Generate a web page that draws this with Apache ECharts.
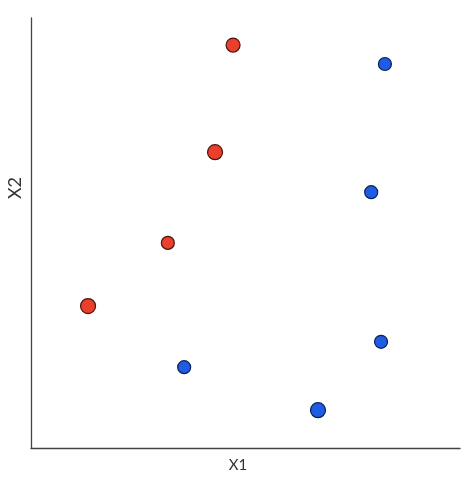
<!DOCTYPE html>
<html>
<head>
<meta charset="utf-8">
<script src="https://cdn.jsdelivr.net/npm/echarts@6/dist/echarts.min.js"></script>
<style>html,body{margin:0;padding:0;background:#fff;}#c{width:474px;height:477px;}</style>
</head>
<body>
<div id="c"></div>
<script>
// Data (axis units 0..100)
var redX = [47.1, 42.9, 31.9, 13.3];
var redY = [93.7, 68.8, 47.7, 33.0];
var redSize = [14, 15, 13, 15];
var blueX = [82.5, 79.3, 81.6, 35.7, 66.9];
var blueY = [89.3, 59.5, 24.7, 18.8, 8.8];
var blueSize = [13, 13, 13, 13, 15];
var xName = 'X1';
var yName = 'X2';

function pts(xs, ys, ss) {
  return xs.map(function (x, i) { return { value: [x, ys[i]], symbolSize: ss[i] }; });
}

var chart = echarts.init(document.getElementById('c'), null, { renderer: 'canvas' });
chart.setOption({
  animation: false,
  backgroundColor: '#ffffff',
  grid: { left: 31, right: 14, top: 18, bottom: 29, containLabel: false, outerBoundsMode: 'none' },
  xAxis: {
    type: 'value', min: 0, max: 100,
    axisLine: { show: true, onZero: false, lineStyle: { color: '#444', width: 1.3 } },
    axisTick: { show: false }, axisLabel: { show: false }, splitLine: { show: false }
  },
  yAxis: {
    type: 'value', min: 0, max: 100,
    axisLine: { show: true, onZero: false, lineStyle: { color: '#444', width: 1.3 } },
    axisTick: { show: false }, axisLabel: { show: false }, splitLine: { show: false }
  },
  graphic: [
    { type: 'text', x: 238, y: 465, style: { text: xName, font: '15px Lato', fill: '#333', align: 'center', verticalAlign: 'middle' } },
    { type: 'text', x: 15, y: 188, rotation: Math.PI / 2, style: { text: yName, font: '18px Lato', fill: '#333', align: 'center', verticalAlign: 'middle' } }
  ],
  series: [
    {
      type: 'scatter', data: pts(redX, redY, redSize),
      itemStyle: { color: '#EA3F2B', borderColor: '#4a1510', borderWidth: 1.2, opacity: 1 }
    },
    {
      type: 'scatter', data: pts(blueX, blueY, blueSize),
      itemStyle: { color: '#1E5DE3', borderColor: '#0c1e55', borderWidth: 1.2, opacity: 1 }
    }
  ]
});
</script>
</body>
</html>
